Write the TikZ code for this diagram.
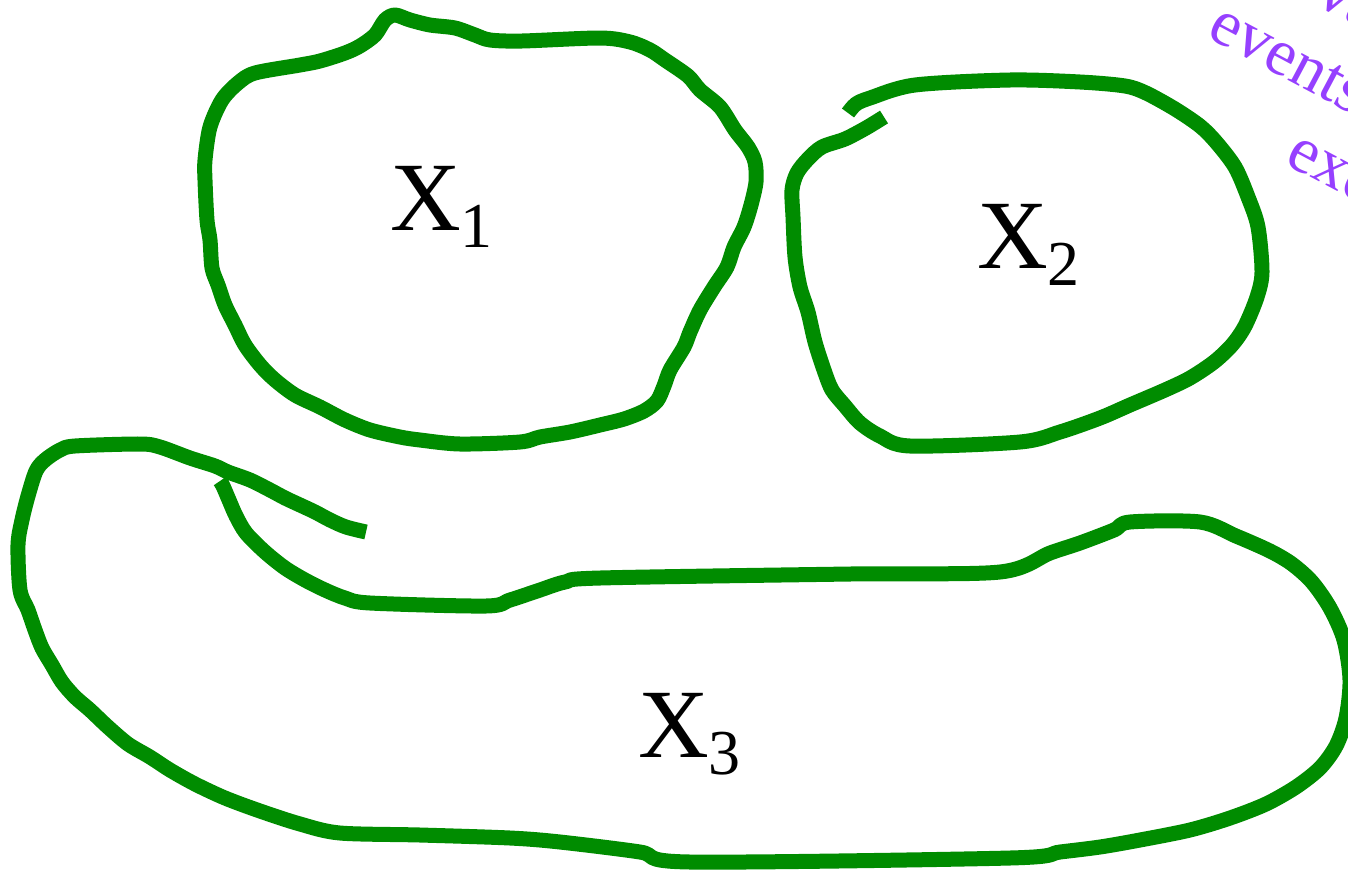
\documentclass[tikz,border=0pt]{standalone}
\usepackage{fontspec}
\setmainfont{Liberation Serif}
\usetikzlibrary{positioning}
\definecolor{loopgreen}{RGB}{0, 140, 0}
\definecolor{notepurple}{RGB}{150, 64, 255}
\tikzstyle{loopline} = [draw=loopgreen, line width=15pt, line join=round]
\tikzstyle{setlabel} = [font=\fontsize{98}{100}\selectfont, inner sep=0pt, anchor=base west]
\tikzstyle{note} = [font=\fontsize{66}{70}\selectfont, text=notepurple, rotate=-28,
                    anchor=base west, inner sep=0pt]
\newcommand{\setname}[1]{X\raisebox{-0.18em}{\fontsize{64}{66}\selectfont #1}}

\begin{document}
\begin{tikzpicture}[x=1pt, y=-1pt]

\useasboundingbox (0,0) rectangle (1348,873);
\clip (0,0) rectangle (1348,873);

% Loop X1 (closed)
\draw[loopline] plot[smooth cycle, tension=0.5] coordinates {
  (385,20) (395,15) (410,20) (430,25) (455,28) (475,35) (490,40) (522,41)
  (600,38) (630,42) (650,50) (665,60) (688,76) (700,90) (720,107) (735,130)
  (748,147) (755,162) (756,182) (751,205) (744,227) (734,247) (727,267)
  (714,287) (700,310) (690,332) (684,347) (670,370) (664,386) (657,401)
  (644,411) (624,419) (600,425) (570,432) (540,437) (520,442) (460,444)
  (420,440) (400,437) (370,430) (345,420) (320,407) (295,395) (275,380)
  (260,365) (245,345) (235,325) (225,305) (218,285) (212,268) (210,240)
  (207,220) (205,180) (205,160) (210,127) (222,100) (238,83) (255,73)
  (300,65) (320,61) (345,53) (360,46) (375,35)};

% Loop X2 (open at the top left)
\draw[loopline] plot[smooth, tension=0.5] coordinates {
  (848,113) (856,104) (870,98) (915,85) (1010,80) (1080,82) (1125,86)
  (1146,93) (1175,109) (1200,126) (1216,142) (1235,167) (1248,197)
  (1258,227) (1262,272) (1257,297) (1245,326) (1232,345) (1214,362)
  (1190,378) (1165,390) (1130,405) (1100,418) (1060,432) (1020,442)
  (910,446) (880,436) (860,423) (845,406) (832,390) (824,370) (815,342)
  (808,312) (800,287) (795,257) (793,217) (792,190) (797,173) (808,159)
  (822,147) (845,139) (866,128) (884,117)};

% Loop X3 (open at the top left)
\draw[loopline] plot[smooth, tension=0.5] coordinates {
  (366,532) (346,527) (330,520) (315,512) (300,505) (285,498) (270,490)
  (250,480) (228,472) (215,466) (190,458) (160,447) (140,444) (75,446)
  (60,450) (45,460) (36,471) (28,496) (22,520) (18,545) (20,590) (28,610)
  (35,630) (42,648) (52,665) (62,682) (75,697) (90,710) (108,727)
  (128,744) (150,757) (170,770) (195,784) (225,798) (260,811) (300,824)
  (340,833) (420,835) (510,838) (560,842) (640,852) (690,862) (1010,858)
  (1060,852) (1100,847) (1140,840) (1190,830) (1230,818) (1266,804)
  (1296,787) (1320,768) (1336,746) (1346,718) (1350,680) (1344,640)
  (1330,608) (1312,582) (1292,564) (1270,551) (1236,536) (1200,522)
  (1130,522) (1114,530) (1080,543) (1050,553) (1000,572) (850,574)
  (600,578) (565,582) (540,590) (510,600) (486,606) (370,603) (345,598)
  (325,590) (305,580) (285,568) (265,552) (246,533) (236,516) (229,500)
  (223,486) (220,481)};

% Labels
\node[setlabel] (x1) at (390,230) {\setname{1}};
\node[setlabel] (x2) at (977,268) {\setname{2}};
\node[setlabel] (x3) at (638,757) {\setname{3}};

% Note at the top right (cut by the border)
\node[note] (note1) at (1313,3) {va};
\node[note] (note2) at (1205,36) {events};
\node[note] (note3) at (1283,163) {exc};

\end{tikzpicture}
\end{document}
